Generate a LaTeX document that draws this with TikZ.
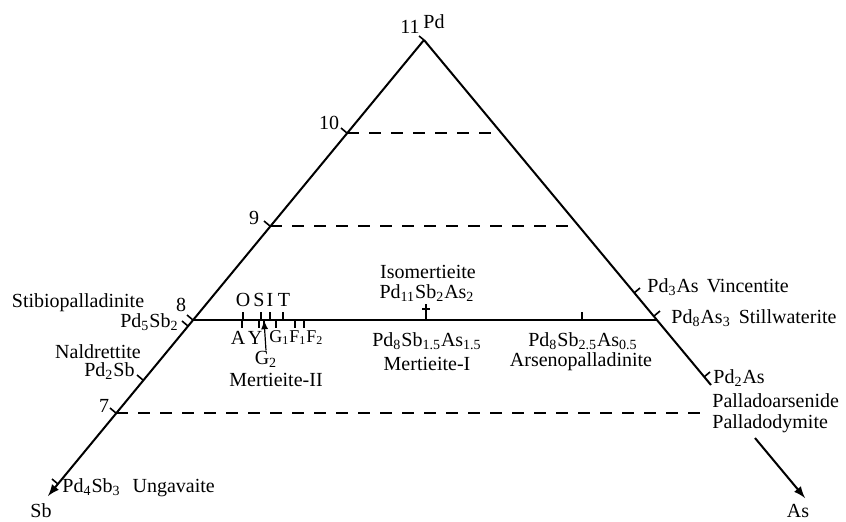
\documentclass[tikz,border=0pt]{standalone}
\usepackage{fontspec}
\setmainfont{Liberation Serif}
\usepackage{tikz}
\newcommand{\sbs}[1]{\textsubscript{#1}}

\begin{document}
\begin{tikzpicture}[x=0.5pt,y=-0.5pt,
    lbl/.style={draw=none,inner sep=0pt,font=\fontsize{10}{12}\selectfont},
    edgeline/.style={line width=1pt},
    joinline/.style={line width=0.8pt},
    dashline/.style={line width=0.9pt,dash pattern=on 6pt off 5pt},
    tickmark/.style={line width=0.8pt}]
             \useasboundingbox (0,0) rectangle (846,521);

             \coordinate (pd) at (424,40);
             \coordinate (sb) at (48,496);
             \coordinate (as) at (805,498);
             \coordinate (rgapa) at (711,385);
             \coordinate (rgapb) at (755,438);

             \coordinate (l10) at (347,133);
             \coordinate (l9) at (270,226);
             \coordinate (l8) at (193,320);
             \coordinate (l7) at (116,413);
             \coordinate (r10) at (501,133);
             \coordinate (r9) at (579,226);
             \coordinate (r8) at (657,320);
             \coordinate (e7) at (705,413);

             \draw[edgeline,-latex] (pd) -- (sb);
             \draw[edgeline] (pd) -- (rgapa);
             \draw[edgeline,-latex] (rgapb) -- (as);

             \draw[dashline] (l10) -- (r10);
             \draw[dashline] (l9) -- (r9);
             \draw[dashline] (l7) -- (e7);
             \draw[joinline] (l8) -- (r8);

             \coordinate (tpdfive) at (188,326);
             \coordinate (tpdtwo) at (143,380);
             \coordinate (tpdfour) at (58,484);
             \coordinate (tpdthree) at (634,293);
             \coordinate (tpdeight) at (654,316);
             \coordinate (tpdtwoas) at (704,377);

             \draw[tickmark] (pd) -- ++(-5,-4);
             \draw[tickmark] (l10) -- ++(-6,-5);
             \draw[tickmark] (l9) -- ++(-6,-5);
             \draw[tickmark] (l8) -- ++(-6,-5);
             \draw[tickmark] (l7) -- ++(-6,-5);
             \draw[tickmark] (tpdfive) -- ++(-6,-5);
             \draw[tickmark] (tpdtwo) -- ++(-6,-5);
             \draw[tickmark] (tpdfour) -- ++(-6,-5);
             \draw[tickmark] (tpdthree) -- ++(6,-5);
             \draw[tickmark] (tpdeight) -- ++(6,-5);
             \draw[tickmark] (tpdtwoas) -- ++(6,-5);

             \coordinate (to) at (243,320);
             \coordinate (ts) at (261,320);
             \coordinate (ti) at (270,320);
             \coordinate (tt) at (283,320);
             \coordinate (ta) at (242,320);
             \coordinate (ty) at (259,320);
             \coordinate (tgtwo) at (264,320);
             \coordinate (tgone) at (276,320);
             \coordinate (tfone) at (295,320);
             \coordinate (tftwo) at (304,320);
             \coordinate (tiso) at (426,320);
             \coordinate (tarseno) at (582,320);

             \draw[tickmark] (to) -- ++(0,-8);
             \draw[tickmark] (ts) -- ++(0,-8);
             \draw[tickmark] (ti) -- ++(0,-8);
             \draw[tickmark] (tt) -- ++(0,-8);
             \draw[tickmark] (ta) -- ++(0,8);
             \draw[tickmark] (ty) -- ++(0,8);
             \draw[tickmark] (tgtwo) -- ++(0,8);
             \draw[tickmark] (tgone) -- ++(0,8);
             \draw[tickmark] (tfone) -- ++(0,8);
             \draw[tickmark] (tftwo) -- ++(0,8);
             \draw[tickmark] (tarseno) -- ++(0,-8);
             \draw[tickmark] (tiso) -- ++(0,-16);
             \draw[tickmark] (422,309) -- (430,309);

             \node[lbl] (npd) at (434,22) {Pd};
             \node[lbl] (nsb) at (41,511) {Sb};
             \node[lbl] (nas) at (798,511) {As};

             \node[lbl] (neleven) at (410,27) {11};
             \node[lbl] (nten) at (329,123) {10};
             \node[lbl] (nnine) at (254,218) {9};
             \node[lbl] (neight) at (181,305) {8};
             \node[lbl] (nseven) at (104,406) {7};

             \node[lbl] (nstibio) at (78,303) {Stibiopalladinite};
             \node[lbl,anchor=east] (npdfive) at (179,322) {Pd\sbs{5}Sb\sbs{2}};
             \node[lbl] (nnald) at (98,352) {Naldrettite};
             \node[lbl,anchor=east] (npdtwo) at (135,371) {Pd\sbs{2}Sb};
             \node[lbl,anchor=west] (nunga) at (62,488) {Pd\sbs{4}Sb\sbs{3}\hspace{6pt}Ungavaite};

             \node[lbl,anchor=west] (nvinc) at (647,287) {Pd\sbs{3}As\hspace{4pt}Vincentite};
             \node[lbl,anchor=west] (nstill) at (671,318) {Pd\sbs{8}As\sbs{3}\hspace{4pt}Stillwaterite};
             \node[lbl,anchor=west] (npdtwoas) at (713,378) {Pd\sbs{2}As};
             \node[lbl,anchor=west] (npallars) at (712,401) {Palladoarsenide};
             \node[lbl,anchor=west] (npalldym) at (712,424) {Palladodymite};

             \node[lbl] (no) at (243,300) {O};
             \node[lbl] (ns) at (259,300) {S};
             \node[lbl] (ni) at (270,300) {I};
             \node[lbl] (nt) at (284,300) {T};
             \node[lbl] (na) at (238,338) {A};
             \node[lbl] (ny) at (255,338) {Y};
             \node[lbl,anchor=west,font=\fontsize{9}{11}\selectfont] (ngf) at (269,338) {G\sbs{1}F\sbs{1}F\sbs{2}};
             \node[lbl] (ngtwo) at (266,359) {G\sbs{2}};
             \node[lbl] (nmertwo) at (276,380) {Mertieite-II};
             \draw[line width=0.6pt,-latex] (ngtwo.north) -- (tgtwo);

             \node[lbl] (niso) at (428,272) {Isomertieite};
             \node[lbl] (nisof) at (427,293) {Pd\sbs{11}Sb\sbs{2}As\sbs{2}};
             \node[lbl] (nmerf) at (427,341) {Pd\sbs{8}Sb\sbs{1.5}As\sbs{1.5}};
             \node[lbl] (nmerone) at (427,364) {Mertieite-I};
             \node[lbl] (narsf) at (583,341) {Pd\sbs{8}Sb\sbs{2.5}As\sbs{0.5}};
             \node[lbl] (narseno) at (581,362) {Arsenopalladinite};
             \end{tikzpicture}
\end{document}
